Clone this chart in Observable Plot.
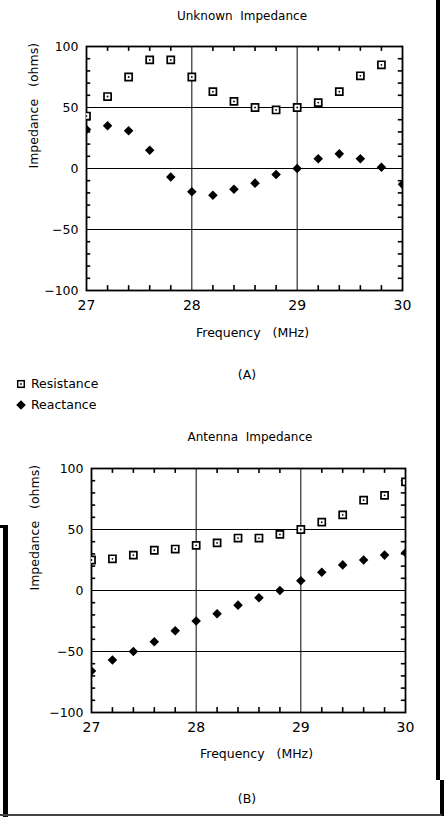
<!DOCTYPE html>
<html><head><meta charset="utf-8">
<script src="https://cdn.jsdelivr.net/npm/d3@7"></script>
<script src="https://cdn.jsdelivr.net/npm/@observablehq/plot@0.6"></script>
<style>
body{margin:0;background:#fff;font-family:"DejaVu Sans",sans-serif;color:#000;}
#page{position:relative;width:445px;height:818px;overflow:hidden;background:#fff;}
.t{position:absolute;transform:translate(-50%,-50%);white-space:pre;color:#000;line-height:1;}
.bar{position:absolute;background:#000;}
.leg{position:absolute;display:flex;align-items:center;font-size:12.5px;white-space:nowrap;}
.leg svg{margin-right:5px;}
</style></head><body><div id="page"></div>
<script>
// ---- data ----
const frequency = [27.0, 27.2, 27.4, 27.6, 27.8, 28.0, 28.2, 28.4, 28.6, 28.8, 29.0, 29.2, 29.4, 29.6, 29.8, 30.0];
const unknownResistance = [43, 59, 75, 89, 89, 75, 63, 55, 50, 48, 50, 54, 63, 76, 85, null];
const unknownReactance  = [32, 35, 31, 15, -7, -19, -22, -17, -12, -5, 0, 8, 12, 8, 1, -13];
const antennaResistance = [25, 26, 29, 33, 34, 37, 39, 43, 43, 46, 50, 56, 62, 74, 78, 89];
const antennaReactance  = [-66, -57, -50, -42, -33, -25, -19, -12, -6, 0, 8, 15, 21, 25, 29, 31];
const xTicks = [27, 28, 29, 30];
const yTicks = [-100, -50, 0, 50, 100];
const xGrid = [28, 29];
const yGrid = [-50, 0, 50];
const xMinor = [27.2, 27.4, 27.6, 27.8, 28.2, 28.4, 28.6, 28.8, 29.2, 29.4, 29.6, 29.8];
const yMinor = [-90, -80, -70, -60, -40, -30, -20, -10, 10, 20, 30, 40, 60, 70, 80, 90];
const titles = ["Unknown  Impedance", "Antenna  Impedance"];
const captions = ["(A)", "(B)"];
const xLabel = "Frequency  (MHz)";
const yLabel = "Impedance  (ohms)";
const seriesNames = ["Resistance", "Reactance"];

const page = document.getElementById("page");

function panel(res, rea, m) {
  const rows = frequency.map((f, i) => ({f, res: res[i], rea: rea[i]}));
  const resRows = rows.filter(d => d.res != null);
  const tickStyle = {stroke: "#000", strokeWidth: 1.6};
  return Plot.plot({
    width: 445, height: m.height,
    marginLeft: m.left, marginRight: m.right, marginTop: m.top, marginBottom: m.bottom,
    style: {fontFamily: "DejaVu Sans, sans-serif", fontSize: "12.5px", color: "#000", background: "transparent", overflow: "visible", wordSpacing: "2px"},
    x: {domain: [27, 30]},
    y: {domain: [-100, 100]},
    marks: [
      Plot.ruleY(yGrid, {stroke: "#000", strokeWidth: 1}),
      Plot.ruleX(xGrid, {stroke: "#000", strokeWidth: 1}),
      Plot.ruleX(xMinor, {x: d => d, y1: 100, y2: 96, ...tickStyle}),
      Plot.ruleX(xMinor, {x: d => d, y1: -100, y2: -96, ...tickStyle}),
      Plot.ruleY(yMinor, {y: d => d, x1: 27, x2: 27.04, ...tickStyle}),
      Plot.ruleY(yMinor, {y: d => d, x1: 30, x2: 29.96, ...tickStyle}),
      Plot.frame({stroke: "#000", strokeWidth: 1.8}),
      Plot.dot(resRows, {x: "f", y: "res", symbol: "square", r: 4, stroke: "#000", strokeWidth: 1.7, fill: "#fff", clip: true}),
      Plot.dot(resRows, {x: "f", y: "res", r: 0.9, fill: "#000", stroke: null, clip: true}),
      Plot.dot(rows, {x: "f", y: "rea", symbol: "diamond2", r: 4.3, fill: "#000", stroke: null, clip: true}),
      Plot.axisX(xTicks, {tickSize: 0, tickPadding: 10, fontSize: 14, label: null}),
      Plot.axisY(yTicks, {tickSize: 0, tickPadding: 8, fontSize: 12.5, label: null}),
      Plot.text([xLabel], {frameAnchor: "bottom", dy: m.xLabelDy, dx: 8, fontSize: 12.5}),
      Plot.text([yLabel], {frameAnchor: "left", rotate: -90, dx: m.yLabelDx, fontSize: 12.5})
    ]
  });
}

function place(el, left, topPx) {
  el.style.position = "absolute";
  el.style.left = left + "px";
  el.style.top = topPx + "px";
  page.appendChild(el);
}

const chartA = panel(unknownResistance, unknownReactance, {height: 350, left: 86, right: 43, top: 46, bottom: 60, xLabelDy: 46, yLabelDx: -53});
place(chartA, 0, 0);
const chartB = panel(antennaResistance, antennaReactance, {height: 350, left: 91, right: 40, top: 48, bottom: 58, xLabelDy: 45, yLabelDx: -57});
place(chartB, 0, 420);

function label(text, x, y, size) {
  const d = document.createElement("div");
  d.className = "t";
  d.textContent = text;
  d.style.left = x + "px";
  d.style.top = y + "px";
  d.style.fontSize = size + "px";
  page.appendChild(d);
}
label(titles[0], 242, 16, 12);
label(titles[1], 250, 437, 12);
label(captions[0], 247, 375, 12.5);
label(captions[1], 247, 799, 12.5);

// legend
const sq = '<svg width="10" height="10" viewBox="-5 -5 10 10"><rect x="-3.3" y="-3.3" width="6.6" height="6.6" fill="#fff" stroke="#000" stroke-width="1.5"/><circle r="0.9" fill="#000"/></svg>';
const di = '<svg width="10" height="10" viewBox="-5 -5 10 10"><path d="M0,-4.8L4.8,0L0,4.8L-4.8,0Z" fill="#000"/></svg>';
[[sq, seriesNames[0], 376], [di, seriesNames[1], 397]].forEach(([sym, name, y]) => {
  const d = document.createElement("div");
  d.className = "leg";
  d.innerHTML = sym + "<span></span>";
  d.querySelector("span").textContent = name;
  d.style.left = "16px";
  d.style.top = y + "px";
  page.appendChild(d);
});

// scan frame edges
function bar(l, t, w, h, c) {
  const d = document.createElement("div");
  d.className = "bar";
  Object.assign(d.style, {left: l + "px", top: t + "px", width: w + "px", height: h + "px", background: c || "#000"});
  page.appendChild(d);
}
bar(436, 0, 4, 780);
bar(440, 780, 4, 36);
bar(3, 525, 5, 292);
bar(0, 525, 8, 3);
bar(0, 814, 442, 2, "#444");
</script></body></html>
